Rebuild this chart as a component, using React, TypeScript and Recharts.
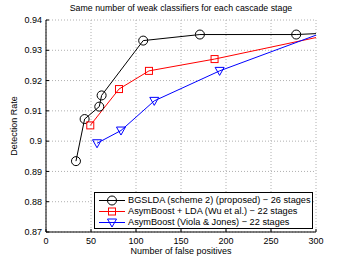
import React from "react";
import { LineChart, Line, XAxis, YAxis, CartesianGrid } from "recharts";

const titleText = "Same number of weak classifiers for each cascade stage";
const xLabel = "Number of false positives";
const yLabel = "Detection Rate";
const xTicks = [0, 50, 100, 150, 200, 250, 300];
const yTicks = [0.87, 0.88, 0.89, 0.9, 0.91, 0.92, 0.93, 0.94];

const bgsldaData = [
  { x: 33.3, y: 0.8934 },
  { x: 42.9, y: 0.9073 },
  { x: 59.2, y: 0.9114 },
  { x: 61.8, y: 0.9151 },
  { x: 108, y: 0.9332 },
  { x: 171, y: 0.9352 },
  { x: 278, y: 0.9352 },
  { x: 300, y: 0.9355 },
];
const asymLdaData = [
  { x: 49.2, y: 0.9052 },
  { x: 81.1, y: 0.9172 },
  { x: 114.4, y: 0.9232 },
  { x: 187.3, y: 0.9271 },
  { x: 300, y: 0.9342 },
];
const asymVjData = [
  { x: 56.7, y: 0.8993 },
  { x: 83.3, y: 0.9035 },
  { x: 120.3, y: 0.9133 },
  { x: 192.9, y: 0.9232 },
  { x: 300, y: 0.935 },
];

const seriesNames = [
  "BGSLDA (scheme 2) (proposed) − 26 stages",
  "AsymBoost + LDA (Wu et al.) − 22 stages",
  "AsymBoost (Viola & Jones) − 22 stages",
];
const seriesColors = ["#000000", "#ff0000", "#0000ff"];

const FONT = "'Liberation Sans', Arial, sans-serif";
const TICK_LEN = 3;

const Marker = ({ kind, cx, cy, color }: any) => {
  if (kind === "circle") return <circle cx={cx} cy={cy} r={4.5} fill="none" stroke={color} strokeWidth={1} />;
  if (kind === "square") return <rect x={cx - 3.5} y={cy - 3.5} width={7} height={7} fill="none" stroke={color} strokeWidth={1} />;
  return (
    <polygon
      points={`${cx - 4.5},${cy - 3.5} ${cx + 4.5},${cy - 3.5} ${cx},${cy + 4.5}`}
      fill="none"
      stroke={color}
      strokeWidth={1}
    />
  );
};

const makeDot = (kind: string, color: string) => (props: any) => {
  const { cx, cy, payload, index } = props;
  if (payload.x >= 300) return <g key={`d${index}`} />;
  return <Marker key={`d${index}`} kind={kind} cx={cx} cy={cy} color={color} />;
};

const kinds = ["circle", "square", "triangle"];

const fmtY = (v: number) => String(+v.toFixed(2));

const BottomTick = (p: any) => (
  <g>
    <line x1={p.x} y1={p.y} x2={p.x} y2={p.y - TICK_LEN} stroke="#000" />
    <text x={p.x} y={p.y + 12} textAnchor="middle" fill="#000" fontSize={9} fontFamily={FONT}>
      {p.payload.value}
    </text>
  </g>
);
const LeftTick = (p: any) => (
  <g>
    <line x1={p.x} y1={p.y} x2={p.x + TICK_LEN} y2={p.y} stroke="#000" />
    <text x={p.x - 4} y={p.y + 3.2} textAnchor="end" fill="#000" fontSize={9} fontFamily={FONT}>
      {fmtY(p.payload.value)}
    </text>
  </g>
);
const TopTick = (p: any) => <line x1={p.x} y1={p.y} x2={p.x} y2={p.y + TICK_LEN} stroke="#000" />;
const RightTick = (p: any) => <line x1={p.x} y1={p.y} x2={p.x - TICK_LEN} y2={p.y} stroke="#000" />;

const LegendBox = () => (
  <div
    style={{
      position: "absolute",
      left: 94,
      top: 192,
      width: 219,
      height: 37,
      border: "1px solid #000",
      background: "#fff",
      padding: "2px 0 0 0",
      fontFamily: FONT,
      fontSize: 9.2,
      lineHeight: "11px",
      boxSizing: "border-box",
    }}
  >
    {seriesNames.map((n, i) => (
      <div key={n} style={{ display: "flex", alignItems: "center", height: 11 }}>
        <svg width={33} height={11} style={{ flex: "none", overflow: "visible" }}>
          <line x1={4} y1={5.5} x2={30} y2={5.5} stroke={seriesColors[i]} strokeWidth={1} />
          <Marker kind={kinds[i]} cx={17} cy={5.5} color={seriesColors[i]} />
        </svg>
        <span style={{ whiteSpace: "nowrap" }}>{n}</span>
      </div>
    ))}
  </div>
);

export default function App() {
  return (
    <div style={{ position: "absolute", left: 0, top: 0, width: 349, height: 262, background: "#fff" }}>
      <LineChart
        width={349}
        height={262}
        margin={{ top: 20, right: 33, bottom: 0, left: 0 }}
        style={{ fontFamily: FONT }}
      >
        <CartesianGrid stroke="#b0b0b0" strokeDasharray="1 2" xAxisId="b" yAxisId="l" />
        <XAxis
          xAxisId="b"
          type="number"
          dataKey="x"
          domain={[0, 300]}
          ticks={xTicks}
          allowDataOverflow
          height={30}
          tickSize={0}
          tickMargin={0}
          tickLine={false}
          stroke="#000"
          tick={<BottomTick />}
          label={{ value: xLabel, position: "insideBottom", offset: 8, fill: "#000", fontSize: 9 }}
        />
        <XAxis
          xAxisId="t"
          type="number"
          dataKey="x"
          domain={[0, 300]}
          ticks={xTicks}
          orientation="top"
          height={0}
          tickSize={0}
          tickMargin={0}
          tickLine={false}
          stroke="#000"
          tick={<TopTick />}
        />
        <YAxis
          yAxisId="l"
          type="number"
          domain={[0.87, 0.94]}
          ticks={yTicks}
          allowDataOverflow
          width={46}
          tickSize={0}
          tickMargin={0}
          tickLine={false}
          stroke="#000"
          tick={<LeftTick />}
          label={{ value: yLabel, angle: -90, position: "insideLeft", offset: 14, style: { textAnchor: "middle" }, fill: "#000", fontSize: 9 }}
        />
        <YAxis
          yAxisId="r"
          type="number"
          domain={[0.87, 0.94]}
          ticks={yTicks}
          orientation="right"
          width={0}
          tickSize={0}
          tickMargin={0}
          tickLine={false}
          stroke="#000"
          tick={<RightTick />}
        />
        <Line
          xAxisId="b"
          yAxisId="l"
          data={bgsldaData}
          dataKey="y"
          stroke={seriesColors[0]}
          strokeWidth={1}
          dot={makeDot("circle", seriesColors[0])}
          isAnimationActive={false}
        />
        <Line
          xAxisId="b"
          yAxisId="l"
          data={asymLdaData}
          dataKey="y"
          stroke={seriesColors[1]}
          strokeWidth={1}
          dot={makeDot("square", seriesColors[1])}
          isAnimationActive={false}
        />
        <Line
          xAxisId="b"
          yAxisId="l"
          data={asymVjData}
          dataKey="y"
          stroke={seriesColors[2]}
          strokeWidth={1}
          dot={makeDot("triangle", seriesColors[2])}
          isAnimationActive={false}
        />
      </LineChart>
      <div
        style={{
          position: "absolute",
          left: 46,
          width: 270,
          top: 3,
          textAlign: "center",
          fontFamily: FONT,
          fontSize: 8.8,
          whiteSpace: "nowrap",
        }}
      >
        {titleText}
      </div>
      <LegendBox />
    </div>
  );
}
